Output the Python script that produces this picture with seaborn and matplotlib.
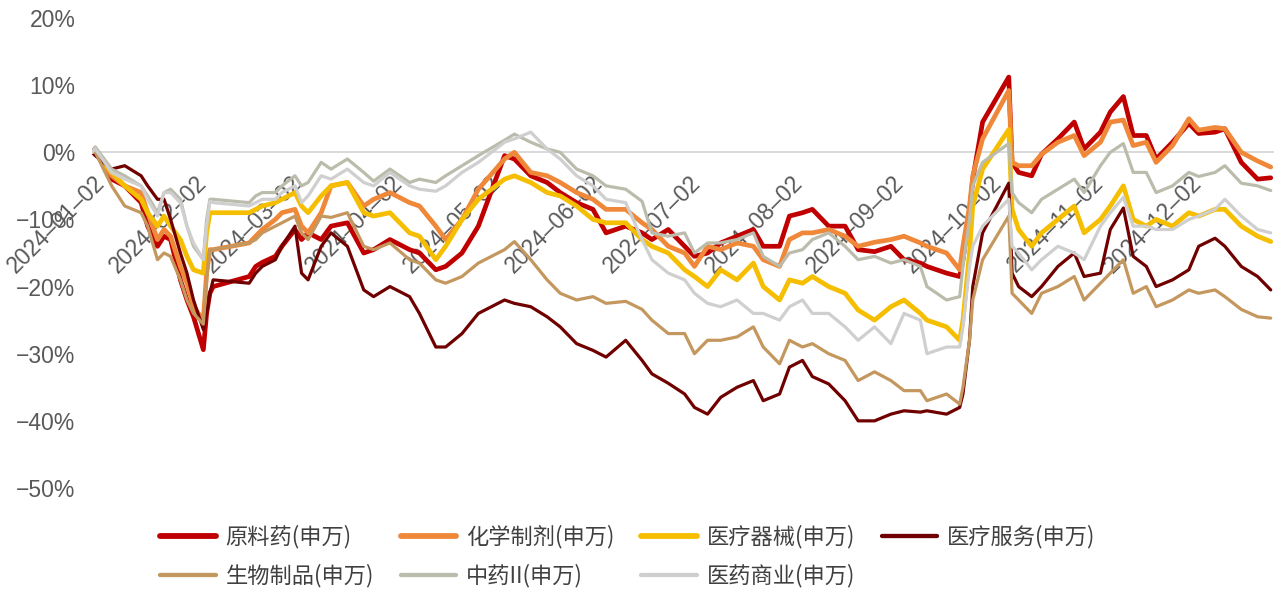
import matplotlib
matplotlib.use("Agg")
import matplotlib.pyplot as plt
from matplotlib import font_manager
from matplotlib.transforms import ScaledTranslation
from matplotlib.lines import Line2D
from matplotlib.font_manager import FontProperties
import pandas as pd
import seaborn as sns

# ---------------- data (cumulative return, %) ----------------
dates = [
    "2024-01-02", "2024-01-03", "2024-01-08", "2024-01-12", "2024-01-17", "2024-01-19", "2024-01-22",
    "2024-01-24", "2024-01-26", "2024-01-29", "2024-01-31",
    "2024-02-02", "2024-02-05", "2024-02-06", "2024-02-07", "2024-02-08", "2024-02-19", "2024-02-21",
    "2024-02-23", "2024-02-27", "2024-02-29",
    "2024-03-04", "2024-03-06", "2024-03-08", "2024-03-12", "2024-03-15", "2024-03-20", "2024-03-25", "2024-03-28",
    "2024-04-02", "2024-04-08", "2024-04-11", "2024-04-16", "2024-04-19", "2024-04-24", "2024-04-29",
    "2024-05-07", "2024-05-10", "2024-05-15", "2024-05-20", "2024-05-24", "2024-05-29",
    "2024-06-03", "2024-06-07", "2024-06-13", "2024-06-18", "2024-06-21", "2024-06-26",
    "2024-07-01", "2024-07-04", "2024-07-08", "2024-07-12", "2024-07-17", "2024-07-22", "2024-07-25", "2024-07-30",
    "2024-08-02", "2024-08-06", "2024-08-09", "2024-08-14", "2024-08-19", "2024-08-23", "2024-08-28",
    "2024-09-02", "2024-09-06", "2024-09-11", "2024-09-13", "2024-09-19", "2024-09-23", "2024-09-24",
    "2024-09-26", "2024-09-27", "2024-09-30",
    "2024-10-08", "2024-10-09", "2024-10-11", "2024-10-15", "2024-10-18", "2024-10-23", "2024-10-28", "2024-10-31",
    "2024-11-05", "2024-11-08", "2024-11-12", "2024-11-15", "2024-11-19", "2024-11-22", "2024-11-27",
    "2024-12-02", "2024-12-05", "2024-12-10", "2024-12-13", "2024-12-18", "2024-12-23", "2024-12-27",
]

raw_materials = [
    0, 0.5, -4, -5, -7.5, -11, -14, -12.5, -13, -19, -22,
    -24.5, -29.4, -24, -21, -20, -18.5, -17, -16.4, -15.5, -14,
    -11.5, -13, -12, -13, -11, -10.5, -15, -14.5,
    -13, -14.5, -15, -17.5, -17, -15, -11,
    -0.5, -1, -3.5, -4.5, -6, -7.5,
    -8.5, -12, -11, -12, -13, -11.5,
    -14, -15.5, -15, -13.5, -12.5, -11.5, -14, -14,
    -9.5, -9, -8.5, -11, -11, -14.5, -14.8,
    -14, -16, -16.5, -17, -18, -18.5, -16, -9, -4, 4.5,
    11.2, -1.5, -3, -3.5, -0.3, 2, 4.5, 0.5,
    3, 6, 8.3, 2.5, 2.5, -1, 1.5,
    4.3, 2.8, 3, 3.5, -1.5, -4, -3.8,
]
chemical_drugs = [
    0, 0, -3.5, -5, -6, -9, -13, -11.5, -12.5, -17, -19.5,
    -23, -25, -18, -14.5, -14.5, -13.5, -12.5, -11.5, -10, -9,
    -8.5, -11, -12, -9, -5, -4.5, -8, -7,
    -6, -7.5, -8, -11, -13, -10, -5.5,
    -1, 0, -3, -3.5, -4.5, -6,
    -7, -8.5, -8.5, -10.5, -11.5, -14,
    -15, -17, -14, -14.5, -13.5, -14, -16, -17,
    -13, -12, -12, -11.5, -12.5, -14, -13.4,
    -13, -12.5, -13.5, -14, -15, -17.5, -14, -8, -3.5, 2,
    9.2, -1.5, -2, -2, -0.3, 1.5, 2.5, -0.5,
    1.5, 4.5, 4.8, 1, 1.5, -1.5, 1,
    5, 3.3, 3.7, 3.5, 0, -1.3, -2.2,
]
medical_devices = [
    0, 0, -3, -5, -7, -9, -11, -9.5, -11, -13, -15.5,
    -17.5, -18, -12, -9, -9, -9, -8.5, -8, -7.5, -7,
    -6, -8, -9, -6.5, -5, -4.5, -9, -9.5,
    -9, -12, -12.5, -16, -14, -10, -7,
    -4, -3.5, -4.5, -6, -6.5, -8,
    -10, -10.5, -10.5, -13, -14, -15,
    -17.5, -18.5, -20, -17.5, -19, -16.5, -20, -22,
    -19, -19.5, -18.5, -20, -21, -23.5, -25,
    -23, -22, -24, -25, -26, -28, -25, -15, -8, -2.5,
    3.4, -8.5, -11.5, -14, -12, -10, -8, -12,
    -10, -8, -5, -10, -11, -10, -11,
    -9, -9.5, -8.5, -8.5, -11, -12.5, -13.3,
]
medical_services = [
    0, -0.5, -2.5, -2, -3.5, -5, -7, -7, -10, -15, -18,
    -22, -26.4, -24, -21, -19, -19.5, -18, -17, -16, -14,
    -11, -18, -19, -14, -12, -14, -20.5, -21.5,
    -20, -21.5, -24, -29, -29, -27, -24,
    -22, -22.5, -23, -24.5, -26, -28.5,
    -29.5, -30.5, -28, -31, -33, -34.4,
    -36, -38, -39, -36.5, -35, -34, -37, -36,
    -32, -31, -33.4, -34.5, -37, -40, -40,
    -39, -38.5, -38.7, -38.5, -39, -38, -36, -28, -20, -12,
    -4.6, -18, -20, -21.5, -20, -17, -15, -18.5,
    -18, -11.5, -8.3, -15.5, -17, -20, -19,
    -17.5, -14, -12.8, -14, -17, -18.5, -20.5,
]
biologics = [
    0, 0, -5, -8, -9, -11, -16, -15, -15.5, -19, -22,
    -24, -25.6, -19, -14.5, -14.5, -13.5, -13, -12, -11, -10.5,
    -9.5, -12, -13, -9.5, -9.7, -9, -14, -14.5,
    -13.5, -16, -16.5, -19, -19.5, -18.5, -16.5,
    -14.5, -13.3, -16, -19, -21, -22,
    -21.5, -22.5, -22.2, -23.4, -25, -27,
    -27, -30, -28, -28, -27.5, -26, -29, -31.5,
    -28, -29, -28.5, -30, -31, -34, -32.7,
    -34, -35.5, -35.5, -37, -36, -37.5, -35, -28, -22, -16,
    -9.5, -21, -22, -24, -21, -20, -18.5, -22,
    -19.5, -18, -16, -21, -20, -23, -22,
    -20.5, -21, -20.5, -21.5, -23.4, -24.5, -24.7,
]
tcm = [
    0, 0.8, -2.5, -3.5, -5, -6.5, -9, -6, -5.5, -7, -11,
    -14, -16, -10, -7, -7, -7.5, -6.5, -6, -6, -5,
    -3.5, -5, -4.5, -1.5, -2.5, -1, -3, -4.3,
    -2.5, -4.5, -4, -4.5, -3.5, -2, -0.5,
    1.8, 2.7, 1.5, 0.5, 0, -2.5,
    -3.5, -5, -5.5, -7.3, -12, -12.5,
    -12, -15, -13.5, -13.5, -13, -12, -15.5, -17,
    -15, -14.5, -13, -12, -14, -16, -15.5,
    -16.5, -16, -17, -20, -22, -21.5, -17, -10, -5, -1.5,
    1.3, -6, -7.5, -9, -7, -5.5, -4, -6,
    -2, 0, 1.3, -3, -3, -6, -5,
    -3, -3.6, -3, -2, -4.6, -5, -5.7,
]
pharma_commerce = [
    0, 0.5, -3, -4, -5, -7, -9.5, -6, -6, -7.5, -11,
    -13.5, -16, -11, -7.3, -7.5, -8, -7.5, -7, -7, -6,
    -5, -7.5, -6.5, -3.5, -4, -2.5, -4.5, -5,
    -3, -5, -5.5, -5.8, -5, -3, -1.5,
    1.5, 2, 3, 0.5, -1, -3.5,
    -5, -7, -7.5, -13, -16, -18,
    -19, -21, -22.5, -23, -22, -24, -24, -25,
    -23, -22, -24, -24, -26, -28, -26,
    -28.5, -24, -25, -30, -29, -29, -26, -17, -14, -11,
    -7, -14, -15, -17.5, -16, -14, -15, -16,
    -11, -9, -6.7, -11, -11, -11.5, -11.5,
    -10, -9.5, -8.5, -7, -9.5, -11.5, -12,
]

series_names = ["原料药(申万)", "化学制剂(申万)", "医疗器械(申万)", "医疗服务(申万)",
                "生物制品(申万)", "中药II(申万)", "医药商业(申万)"]
series_values = [raw_materials, chemical_drugs, medical_devices, medical_services,
                 biologics, tcm, pharma_commerce]
series_colors = ["#C00000", "#F0883A", "#F5BE00", "#700000", "#C4975E", "#BCBCAC", "#CFCFCF"]
series_widths = [3.4, 3.4, 3.4, 2.3, 2.3, 2.3, 2.3]

tick_dates = ["2024-01-02", "2024-02-02", "2024-03-02", "2024-04-02", "2024-05-02", "2024-06-02",
              "2024-07-02", "2024-08-02", "2024-09-02", "2024-10-02", "2024-11-02", "2024-12-02"]
y_ticks = [-50, -40, -30, -20, -10, 0, 10, 20]

# ---------------- styling ----------------
sns.set_theme(style="white")
available = {f.name for f in font_manager.fontManager.ttflist}
num_font = "Liberation Sans Narrow" if "Liberation Sans Narrow" in available else "Liberation Sans"
plt.rcParams["font.family"] = [num_font, "Noto Sans CJK SC", "DejaVu Sans"]

W, H = 1276, 590
fig = plt.figure(figsize=(W / 100, H / 100), dpi=100)
fig.patch.set_facecolor("white")
x_left, x_right = 92, 1274
y_top, y_bot = 18, 488
ax = fig.add_axes([x_left / W, (H - y_bot) / H, (x_right - x_left) / W, (y_bot - y_top) / H])
ax.set_facecolor("white")

dt = pd.to_datetime(dates)
frames = []
for name, vals in zip(series_names, series_values):
    frames.append(pd.DataFrame({"date": dt, "value": vals, "series": name}))
df = pd.concat(frames, ignore_index=True)

ax.axhline(0, color="#D9D9D9", lw=1.4, zorder=1)

handles = []
for i, (name, color, lw) in enumerate(zip(series_names, series_colors, series_widths)):
    sub = df[df["series"] == name]
    sns.lineplot(data=sub, x="date", y="value", color=color, linewidth=lw, ax=ax,
                 legend=False, estimator=None, zorder=3 + i,
                 solid_joinstyle="round", solid_capstyle="round")
    handles.append(Line2D([], [], color=color, lw=lw + 0.8, solid_capstyle="round"))

ax.set_xlim(pd.Timestamp("2024-01-02"), pd.Timestamp("2024-12-28"))
ax.set_ylim(-50, 20)
ax.set_xlabel("")
ax.set_ylabel("")
for s in ax.spines.values():
    s.set_visible(False)
ax.spines["bottom"].set_position(("data", 0))
ax.grid(False)

label_color = "#595959"
ax.set_yticks(y_ticks)
ax.set_yticklabels([f"{v}%".replace("-", "\u2212") for v in y_ticks],
                   fontsize=16.5, color=label_color, fontfamily=num_font)
ax.tick_params(axis="y", length=0, pad=12)

tick_dt = pd.to_datetime(tick_dates)
ax.set_xticks(tick_dt)
ax.set_xticklabels([d.replace("-", "\u2013") for d in tick_dates], fontsize=16.5,
                   color=label_color, fontfamily=num_font,
                   rotation=45, ha="right", va="baseline", rotation_mode="anchor")
ax.tick_params(axis="x", length=0, pad=23)
offset = ScaledTranslation(14 / 100, 0, fig.dpi_scale_trans)
for lab in ax.get_xticklabels():
    lab.set_transform(lab.get_transform() + offset)

# legend: row-major order in 4 columns
order = [0, 4, 1, 5, 2, 6, 3]
leg_font = FontProperties(family=["Noto Sans CJK SC", "DejaVu Sans"], size=16)
fig.legend([handles[i] for i in order], [series_names[i] for i in order],
           ncol=4, loc="upper left", bbox_to_anchor=(160 / W, 1 - 525 / H),
           frameon=False, prop=leg_font, handlelength=2.5, handletextpad=0.45,
           columnspacing=1.2, labelspacing=0.68, borderpad=0, borderaxespad=0,
           labelcolor="#404040")

fig.savefig("out.png", dpi=100, facecolor="white")
